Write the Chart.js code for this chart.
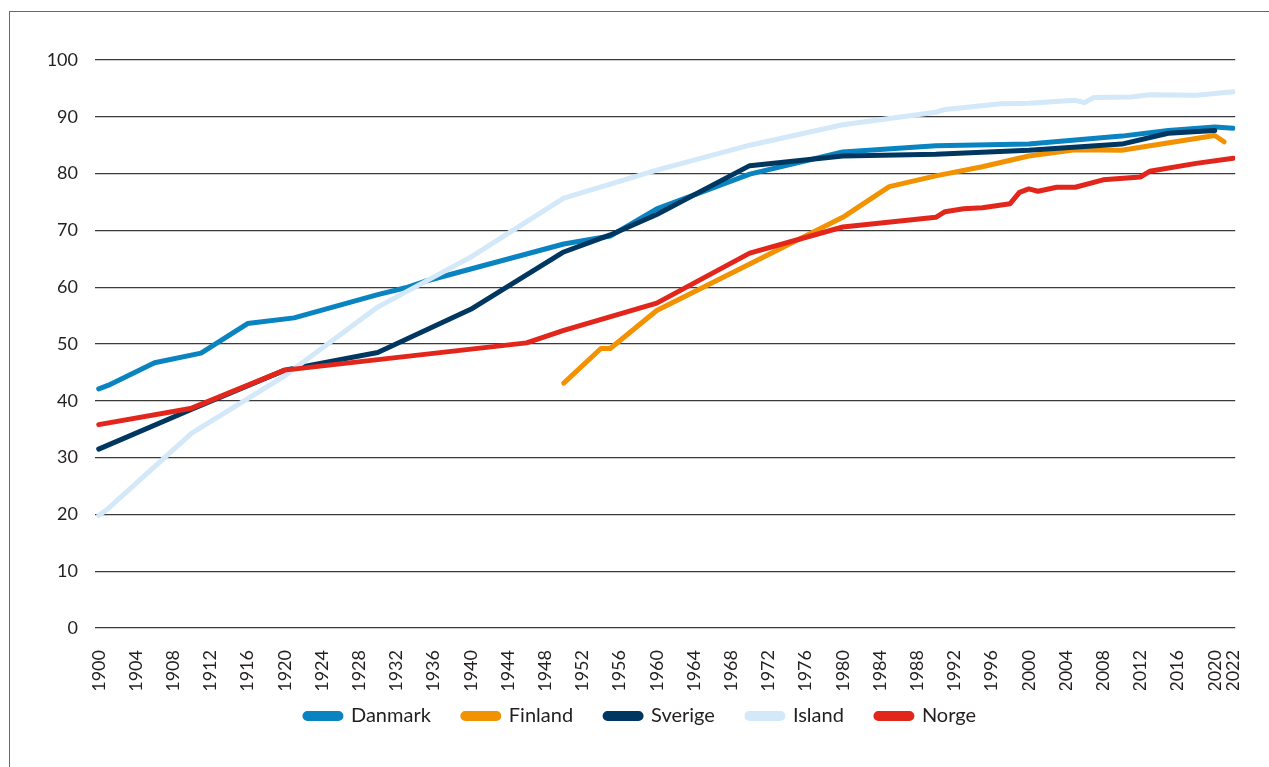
<!DOCTYPE html>
<html>
<head>
<meta charset="utf-8">
<script src="https://cdn.jsdelivr.net/npm/chart.js@4.4.1/dist/chart.umd.min.js"></script>
<style>
  html, body { margin: 0; padding: 0; background: #fff; overflow: hidden; }
  #frame {
    position: absolute; left: 9px; top: 11px; width: 1400px; height: 900px;
    border-left: 1px solid #6a6a6a; border-top: 1px solid #6a6a6a;
  }
  #wrap { position: absolute; left: 0; top: 0; width: 1269px; height: 767px; }
</style>
</head>
<body>
<div id="frame"></div>
<div id="wrap"><canvas id="lifeChart"></canvas></div>
<script>
// Tick labels on the x axis
const tickYears = [1900, 1904, 1908, 1912, 1916, 1920, 1924, 1928, 1932, 1936, 1940, 1944, 1948,
  1952, 1956, 1960, 1964, 1968, 1972, 1976, 1980, 1984, 1988, 1992, 1996, 2000, 2004, 2008,
  2012, 2016, 2020, 2022];

// Series
const danmarkYears = [1900, 1901, 1906, 1911, 1916, 1921, 1930, 1933, 1935, 1950, 1955, 1960, 1970, 1980, 1990, 2000, 2010, 2015, 2020, 2022];
const danmark = [42.1, 42.7, 46.7, 48.4, 53.6, 54.6, 58.7, 59.9, 61.0, 67.6, 69.0, 73.8, 79.9, 83.8, 84.9, 85.2, 86.6, 87.6, 88.2, 88.0];

const finlandYears = [1950, 1954, 1955, 1960, 1970, 1980, 1985, 1990, 1995, 2000, 2005, 2010, 2020, 2021];
const finland = [43.1, 49.2, 49.2, 55.9, 64.1, 72.3, 77.7, 79.6, 81.2, 83.1, 84.2, 84.1, 86.7, 85.6];

const sverigeYears = [1900, 1910, 1920, 1930, 1940, 1950, 1955, 1960, 1970, 1980, 1990, 2000, 2010, 2015, 2020];
const sverige = [31.5, 38.5, 45.4, 48.5, 56.1, 66.2, 69.2, 72.8, 81.4, 83.1, 83.4, 84.1, 85.2, 87.1, 87.6];

const islandYears = [1900, 1901, 1910, 1920, 1930, 1940, 1950, 1960, 1970, 1980, 1990, 1991, 1997, 2000, 2005, 2006, 2007, 2011, 2013, 2018, 2022];
const island = [19.8, 21.0, 34.3, 44.4, 56.5, 65.3, 75.7, 80.6, 85.0, 88.6, 90.8, 91.3, 92.3, 92.4, 92.9, 92.5, 93.4, 93.5, 93.9, 93.8, 94.4];

const norgeYears = [1900, 1910, 1920, 1946, 1950, 1960, 1970, 1980, 1990, 1991, 1993, 1995, 1998, 1999, 2000, 2001, 2003, 2005, 2008, 2012, 2013, 2018, 2022];
const norge = [35.8, 38.7, 45.4, 50.2, 52.4, 57.2, 66.0, 70.6, 72.3, 73.3, 73.8, 74.0, 74.7, 76.7, 77.3, 76.9, 77.6, 77.6, 78.9, 79.4, 80.4, 81.8, 82.7];

const textColor = '#231f20',
  gridColor = '#3a3a3a',
  danmarkColor = '#0a84c1',
  finlandColor = '#f39200',
  sverigeColor = '#003761',
  islandColor = '#d3e8f8',
  norgeColor = '#e2261b';

const fontFamily = 'Lato, "Noto Sans", sans-serif';

function toPoints(years, values) {
  return years.map((y, i) => ({ x: y, y: values[i] }));
}

function series(label, years, values, color, order) {
  return {
    label: label,
    data: toPoints(years, values),
    borderColor: color,
    backgroundColor: color,
    borderWidth: 5,
    pointRadius: 0,
    pointHoverRadius: 0,
    tension: 0,
    borderCapStyle: 'round',
    borderJoinStyle: 'round',
    order: order
  };
}

// Move the legend up into the space under the rotated year labels,
// and centre it on the page rather than on the padded box
const legendShift = {
  id: 'legendShift',
  afterLayout(chart) {
    const lg = chart.legend;
    if (!lg) return;
    lg.top -= 16;
    lg.bottom -= 16;
    lg.left += 20;
    lg.right += 20;
  }
};

new Chart(document.getElementById('lifeChart'), {
  type: 'line',
  data: {
    datasets: [
      series('Danmark', danmarkYears, danmark, danmarkColor, 5),
      series('Finland', finlandYears, finland, finlandColor, 4),
      series('Sverige', sverigeYears, sverige, sverigeColor, 3),
      series('Island', islandYears, island, islandColor, 2),
      series('Norge', norgeYears, norge, norgeColor, 1)
    ]
  },
  plugins: [legendShift],
  options: {
    responsive: true,
    maintainAspectRatio: false,
    animation: false,
    layout: {
      padding: { top: 60, right: 28, bottom: 15, left: 0 }
    },
    plugins: {
      tooltip: { enabled: false },
      legend: {
        position: 'bottom',
        labels: {
          sort: (a, b) => a.datasetIndex - b.datasetIndex,
          boxWidth: 36,
          boxHeight: 5,
          useBorderRadius: true,
          borderRadius: 2.5,
          padding: 32,
          color: textColor,
          font: { family: fontFamily, size: 20 }
        }
      }
    },
    scales: {
      x: {
        type: 'linear',
        min: 1899.6,
        max: 2022.2,
        afterBuildTicks: function (scale) {
          scale.ticks = tickYears.map(v => ({ value: v }));
        },
        afterFit: function (scale) {
          scale.height = 62;
        },
        grid: { display: false },
        border: { display: false },
        ticks: {
          autoSkip: false,
          maxRotation: 90,
          minRotation: 90,
          padding: 14,
          color: textColor,
          font: { family: fontFamily, size: 18 },
          callback: v => String(v)
        }
      },
      y: {
        min: 0,
        max: 100,
        afterFit: function (scale) {
          scale.width = 95;
        },
        grid: {
          color: gridColor,
          lineWidth: 1.2,
          drawTicks: false
        },
        border: { display: false },
        ticks: {
          stepSize: 10,
          padding: 17,
          color: textColor,
          font: { family: fontFamily, size: 18 }
        }
      }
    }
  }
});
</script>
</body>
</html>
